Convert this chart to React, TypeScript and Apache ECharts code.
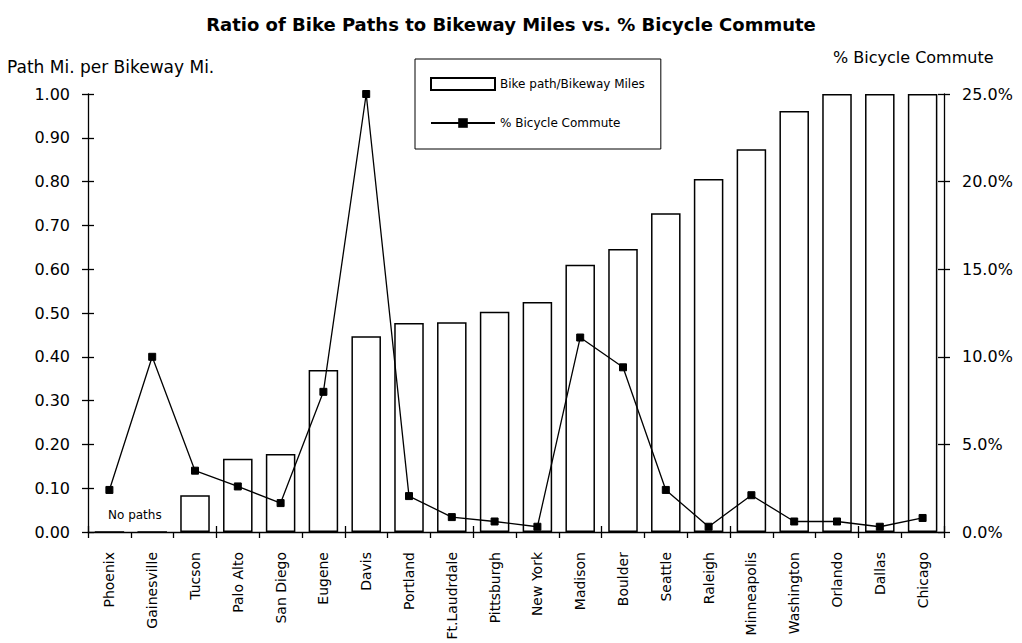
import React, { useEffect, useRef } from "react";
import * as echarts from "echarts";

const cities = [
  "Phoenix", "Gainesville", "Tucson", "Palo Alto", "San Diego", "Eugene", "Davis",
  "Portland", "Ft.Laudrdale", "Pittsburgh", "New York", "Madison", "Boulder",
  "Seattle", "Raleigh", "Minneapolis", "Washington", "Orlando", "Dallas", "Chicago",
];
const pathRatio = [
  0, 0, 0.084, 0.167, 0.178, 0.37, 0.447, 0.477, 0.479, 0.503, 0.525,
  0.61, 0.646, 0.728, 0.806, 0.874, 0.961, 1.0, 1.0, 1.0,
];
const commutePct = [
  2.4, 10.0, 3.5, 2.6, 1.65, 8.0, 25.0, 2.05, 0.85, 0.6, 0.3,
  11.1, 9.4, 2.4, 0.3, 2.1, 0.6, 0.6, 0.3, 0.8,
];
const titleText = "Ratio of Bike Paths to Bikeway Miles vs. % Bicycle Commute";
const leftAxisName = "Path Mi. per Bikeway Mi.";
const rightAxisName = "% Bicycle Commute";
const barName = "Bike path/Bikeway Miles";
const lineName = "% Bicycle Commute";
const noPathsNote = "No paths";

const FONT = "'DejaVu Sans', 'Liberation Sans', Arial, sans-serif";

export default function App() {
  const ref = useRef<HTMLDivElement>(null);
  useEffect(() => {
    if (!ref.current) return;
    const chart = echarts.init(ref.current, null, { renderer: "svg" });
    const axisLine = { show: true, lineStyle: { color: "#000", width: 1.3 } };
    const tickStyle = { color: "#000", width: 1.3 };
    chart.setOption({
      animation: false,
      backgroundColor: "#fff",
      textStyle: { fontFamily: FONT, color: "#000" },
      title: {
        text: titleText,
        left: "center",
        top: 10,
        textStyle: { fontFamily: FONT, fontSize: 18, fontWeight: "bold", color: "#000" },
      },
      legend: {
        left: 415,
        top: 59,
        orient: "vertical",
        data: [
          { name: barName, icon: "rect" },
          { name: lineName },
        ],
        itemWidth: 64,
        itemHeight: 12,
        itemGap: 26,
        padding: [18, 16, 20, 15],
        borderColor: "#000",
        borderWidth: 1,
        textStyle: { fontFamily: FONT, fontSize: 12, color: "#000" },
      },
      grid: { left: 88, right: 78, top: 94, bottom: 111, outerBoundsMode: "none" },
      xAxis: [
        {
          type: "category",
          data: cities,
          position: "bottom",
          axisLine,
          axisTick: { show: true, length: 6, lineStyle: tickStyle },
          axisLabel: {
            interval: 0,
            rotate: 90,
            margin: 20,
            fontSize: 14,
            color: "#000",
            fontFamily: FONT,
          },
          splitLine: { show: false },
        },
        {
          type: "category",
          data: cities,
          position: "bottom",
          axisLine: { show: false },
          axisTick: { show: true, inside: true, length: 6, lineStyle: tickStyle },
          axisLabel: { show: false },
          splitLine: { show: false },
        },
      ],
      yAxis: [
        {
          type: "value",
          position: "left",
          min: 0,
          max: 1,
          interval: 0.1,
          axisLine,
          axisTick: { show: true, length: 6, lineStyle: tickStyle },
          axisLabel: {
            formatter: (v: number) => v.toFixed(2),
            fontSize: 16,
            margin: 18,
            color: "#000",
            fontFamily: FONT,
          },
          splitLine: { show: false },
        },
        {
          type: "value",
          position: "right",
          min: 0,
          max: 25,
          interval: 5,
          axisLine,
          axisTick: { show: true, length: 6, lineStyle: tickStyle },
          axisLabel: {
            formatter: (v: number) => v.toFixed(1) + "%",
            fontSize: 16,
            margin: 18,
            color: "#000",
            fontFamily: FONT,
          },
          splitLine: { show: false },
        },
        {
          type: "value",
          position: "left",
          min: 0,
          max: 1,
          interval: 0.1,
          axisLine: { show: false },
          axisTick: { show: true, inside: true, length: 6, lineStyle: tickStyle },
          axisLabel: { show: false },
          splitLine: { show: false },
        },
        {
          type: "value",
          position: "right",
          min: 0,
          max: 25,
          interval: 5,
          axisLine: { show: false },
          axisTick: { show: true, inside: true, length: 6, lineStyle: tickStyle },
          axisLabel: { show: false },
          splitLine: { show: false },
        },
      ],
      graphic: [
        {
          type: "text",
          left: 7,
          top: 58,
          style: { text: leftAxisName, font: `17px ${FONT}`, fill: "#000" },
        },
        {
          type: "text",
          left: 833,
          top: 49,
          style: { text: rightAxisName, font: `16px ${FONT}`, fill: "#000" },
        },
        {
          type: "text",
          left: 108,
          top: 509,
          style: { text: noPathsNote, font: `12px ${FONT}`, fill: "#000" },
        },
      ],
      series: [
        {
          name: barName,
          type: "bar",
          xAxisIndex: 0,
          yAxisIndex: 0,
          data: pathRatio,
          barWidth: "69%",
          itemStyle: { color: "#fff", borderColor: "#000", borderWidth: 1.5 },
        },
        {
          name: lineName,
          type: "line",
          xAxisIndex: 0,
          yAxisIndex: 1,
          data: commutePct,
          symbol: "rect",
          symbolSize: 7,
          clip: false,
          lineStyle: { color: "#000", width: 1.3 },
          itemStyle: { color: "#000", borderColor: "#000" },
        },
      ],
    });
    return () => chart.dispose();
  }, []);
  return (
    <div
      ref={ref}
      style={{ position: "fixed", left: 0, top: 0, width: 1022, height: 643, background: "#fff" }}
    />
  );
}
